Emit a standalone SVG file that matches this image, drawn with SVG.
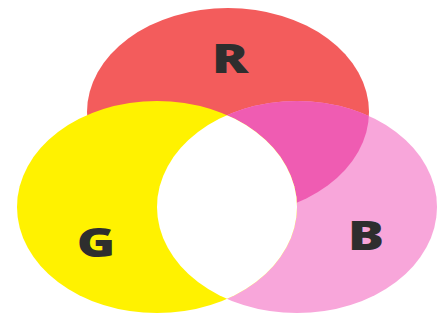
<svg xmlns="http://www.w3.org/2000/svg" width="447" height="320" viewBox="0 0 447 320">
<style>
.lbl{font-family:"Open Sans","Noto Sans","Liberation Sans",sans-serif;font-weight:800;font-size:40px;fill:#2e2e2e;text-anchor:middle}
</style>
<defs>
<ellipse id="eR" cx="228" cy="112" rx="141" ry="104"/>
<ellipse id="eG" cx="157" cy="207" rx="140" ry="106"/>
<ellipse id="eB" cx="297" cy="207" rx="140" ry="106"/>
<clipPath id="cR"><use href="#eR"/></clipPath>
<clipPath id="cB"><use href="#eB"/></clipPath>
</defs>
<rect width="447" height="320" fill="#ffffff"/>
<g id="R"><use href="#eR" fill="#f35c5c"/></g>
<g id="B"><use href="#eB" fill="#f8a6da"/><use href="#eB" fill="#ef5cb2" clip-path="url(#cR)"/></g>
<g id="G"><use href="#eG" fill="#fff200"/><use href="#eG" fill="#ffffff" clip-path="url(#cB)"/></g>
<text class="lbl" transform="translate(230 73) scale(1.35 1)">R</text>
<text class="lbl" transform="translate(96 257) scale(1.3 1)">G</text>
<text class="lbl" transform="translate(366 250) scale(1.35 1)">B</text>
</svg>
